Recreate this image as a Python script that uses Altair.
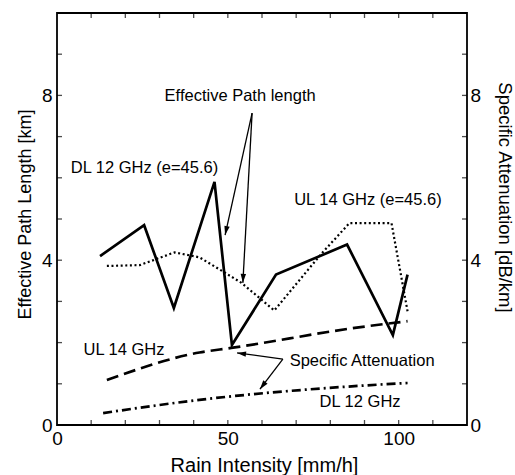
import math
import altair as alt
import pandas as pd

# ---------------- data ----------------
dl_path_x = [12.6, 25.5, 34.2, 46.1, 51.2, 64.1, 84.9, 98.3, 102.6]
dl_path_y = [4.10, 4.85, 2.84, 5.90, 1.94, 3.65, 4.38, 2.18, 3.65]

ul_path_x = [14.6, 24.2, 34.4, 41.7, 47.5, 54.0, 63.6, 77.3, 85.6, 97.9, 102.6]
ul_path_y = [3.86, 3.88, 4.19, 4.07, 3.78, 3.45, 2.78, 4.15, 4.90, 4.90, 2.76]

ul_att_x = [14.6, 41.7, 51.0, 88.3, 102.6]
ul_att_y = [1.09, 1.76, 1.87, 2.37, 2.52]

dl_att_x = [13.5, 41.7, 88.3, 102.6]
dl_att_y = [0.29, 0.61, 0.95, 1.02]

x_tick_values = [10, 20, 30, 40, 50, 60, 70, 80, 90, 100, 110]
y_tick_values = [1, 2, 3, 4, 5, 6, 7, 8, 9]
x_label_values = [0, 50, 100]
y_label_values = [0, 4, 8]

ann_text = ["Effective Path length", "DL 12 GHz (e=45.6)", "UL 14 GHz (e=45.6)",
            "UL 14 GHz", "Specific Attenuation", "DL 12 GHz"]
ann_x = [53.6, 25.6, 91.0, 19.6, 89.3, 88.7]
ann_y = [7.98, 6.24, 5.46, 1.82, 1.55, 0.56]

arrow_x1 = [57.1, 57.1, 66.1, 66.1]
arrow_y1 = [7.57, 7.57, 1.60, 1.60]
arrow_x2 = [49.2, 54.4, 52.7, 59.4]
arrow_y2 = [4.61, 3.45, 1.75, 0.87]

# ---------------- layout ----------------
W, H = 410, 412
X_DOM, Y_DOM = [0, 120], [0, 10]
FONT = "Liberation Sans"

xs = alt.Scale(domain=X_DOM, nice=False, zero=False)
ys = alt.Scale(domain=Y_DOM, nice=False, zero=False)

x_axis = alt.Axis(values=x_label_values, grid=False, domain=False, ticks=False, tickSize=0,
                  labelPadding=4, labelFontSize=19, labelFont=FONT, labelColor="black",
                  labelFlush=False, labelOverlap=False,
                  title="Rain Intensity [mm/h]", titleFont=FONT, titleFontSize=20,
                  titleFontWeight="normal", titleColor="black",
                  titleX=207, titleY=46, titleAlign="center", titleBaseline="alphabetic")

y_left = alt.Axis(orient="left", values=y_label_values, grid=False, domain=False, ticks=False,
                  tickSize=0, labelPadding=5, labelFontSize=19, labelFont=FONT,
                  labelColor="black", labelOverlap=False,
                  title="Effective Path Length [km]", titleFont=FONT, titleFontSize=18,
                  titleFontWeight="normal", titleColor="black", titleAngle=270,
                  titleX=-32, titleY=201, titleAlign="center", titleBaseline="middle")

y_right = alt.Axis(orient="right", values=y_label_values, grid=False, domain=False, ticks=False,
                   tickSize=0, labelPadding=3, labelFontSize=19, labelFont=FONT,
                   labelColor="black", labelOverlap=False,
                   title="Specific Attenuation [dB/km]", titleFont=FONT, titleFontSize=18.5,
                   titleFontWeight="normal", titleColor="black", titleAngle=90,
                   titleX=37, titleY=184, titleAlign="center", titleBaseline="middle")


def X(f):
    return alt.X(f"{f}:Q", scale=xs, axis=x_axis)


def Y(f, axis=None):
    return alt.Y(f"{f}:Q", scale=ys, axis=axis)


def series(xv, yv):
    return pd.DataFrame({"x": xv, "y": yv})


dl_path = alt.Chart(series(dl_path_x, dl_path_y)).mark_line(
    color="black", strokeWidth=2.7).encode(x=X("x"), y=Y("y", y_left))
ul_path = alt.Chart(series(ul_path_x, ul_path_y)).mark_line(
    color="black", strokeWidth=2.2, strokeDash=[2, 2.6]).encode(x=X("x"), y=Y("y"))
ul_att = alt.Chart(series(ul_att_x, ul_att_y)).mark_line(
    color="black", strokeWidth=2.7, strokeDash=[12, 6], interpolate="monotone").encode(x=X("x"), y=Y("y"))
dl_att = alt.Chart(series(dl_att_x, dl_att_y)).mark_line(
    color="black", strokeWidth=2.7, strokeDash=[9, 4, 2, 4], interpolate="monotone").encode(x=X("x"), y=Y("y"))

# inward ticks on all four sides
xt = pd.DataFrame({"v": x_tick_values})
yt = pd.DataFrame({"v": y_tick_values})
tick_bottom = alt.Chart(xt).mark_tick(color="black", thickness=1.3, size=5, yOffset=-2.5).encode(
    x=X("v"), y=alt.value(H))
tick_top = alt.Chart(xt).mark_tick(color="black", thickness=1.3, size=5, yOffset=2.5).encode(
    x=X("v"), y=alt.value(0))
tick_left = alt.Chart(yt).mark_tick(color="black", thickness=1.3, size=5, xOffset=2.5,
                                    orient="horizontal").encode(x=alt.value(0), y=Y("v"))
tick_right = alt.Chart(yt).mark_tick(color="black", thickness=1.3, size=5, xOffset=-2.5,
                                     orient="horizontal").encode(x=alt.value(W), y=Y("v", y_right))

# arrows
arr = pd.DataFrame({"x1": arrow_x1, "y1": arrow_y1, "x2": arrow_x2, "y2": arrow_y2})
px_x = W / (X_DOM[1] - X_DOM[0])
px_y = H / (Y_DOM[1] - Y_DOM[0])
arr["ang"] = [
    math.degrees(math.atan2((b - a) * px_x, (d - c) * px_y)) % 360
    for a, b, c, d in zip(arr.x1, arr.x2, arr.y1, arr.y2)
]
shafts = alt.Chart(arr).mark_rule(color="black", strokeWidth=1.3).encode(
    x=X("x1"), y=Y("y1"), x2="x2:Q", y2="y2:Q")
heads = alt.Chart(arr).mark_point(shape="M0,0L0.6,2L-0.6,2Z", filled=True, size=81,
                                  color="black", opacity=1, strokeWidth=0).encode(
    x=X("x2"), y=Y("y2"), angle=alt.Angle("ang:Q", scale=None))

ann = pd.DataFrame({"t": ann_text, "x": ann_x, "y": ann_y})
labels = alt.Chart(ann).mark_text(font=FONT, fontSize=16.5, color="black",
                                  align="center", baseline="middle").encode(
    x=X("x"), y=Y("y"), text="t:N")

chart = alt.layer(
    dl_att, ul_att, ul_path, dl_path,
    tick_bottom, tick_top, tick_left, tick_right,
    shafts, heads, labels,
).resolve_scale(y="shared", x="shared").resolve_axis(y="independent").properties(
    width=W, height=H, autosize="none",
    padding={"left": 57, "top": 13, "right": 48, "bottom": 50},
    background="white",
).configure_view(stroke="black", strokeWidth=1.8)

chart.save("out.html", embed_options={"renderer": "svg", "actions": False})
